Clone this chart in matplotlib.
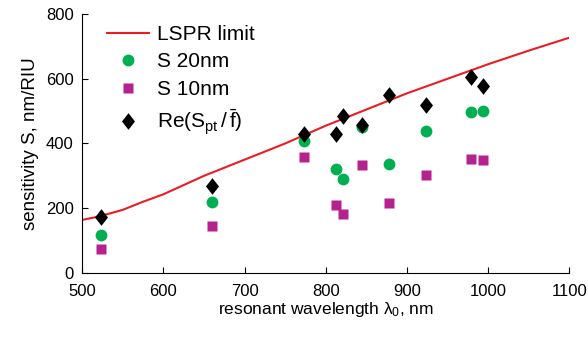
import numpy as np
import matplotlib
matplotlib.use("Agg")
import matplotlib.pyplot as plt

plt.rcParams['font.family'] = ['Liberation Sans', 'DejaVu Sans']
plt.rcParams['mathtext.fontset'] = 'custom'
plt.rcParams['mathtext.rm'] = 'Liberation Sans'
plt.rcParams['mathtext.it'] = 'Liberation Sans'

# LSPR limit curve
lspr_wl = [500, 520, 550, 575, 600, 650, 700, 750, 800, 850, 900, 950, 1000, 1050, 1100]
lspr_s = [164, 174, 195, 220, 243, 300, 350, 400, 455, 505, 555, 600, 645, 687, 727]

# resonant wavelengths of the particles
wl = [523, 660, 773, 813, 821, 845, 878, 924, 979, 993]
s20 = [117, 220, 409, 321, 291, 452, 337, 440, 496, 501]
s10 = [75, 145, 359, 209, 182, 334, 217, 303, 352, 349]
re_spt = [174, 270, 428, 429, 486, 457, 550, 519, 606, 579]

# diamond a bit taller than wide
diamond = [(0, 1), (0.78, 0), (0, -1), (-0.78, 0), (0, 1)]

fig = plt.figure(figsize=(5.88, 3.39), dpi=100)
ax = fig.add_axes([0.1395, 0.1947, 0.829, 0.764])

ax.plot(lspr_wl, lspr_s, color='#ec1c24', lw=1.5, label='LSPR limit')
ax.plot(wl, s20, 'o', color='#00b050', ms=8.5, mec='none', label='S 20nm')
ax.plot(wl, s10, 's', color='#b5218e', ms=6.8, mec='none', label='S 10nm')
ax.plot(wl, re_spt, marker=diamond, ls='none', color='black', ms=12, mec='none',
        label=r'Re(S$_{\rm pt}$$\,/\,\bar{\rm f}$)')

ax.set_xlim(500, 1100)
ax.set_ylim(0, 800)
ax.set_xticks(np.arange(500, 1101, 100))
ax.set_yticks(np.arange(0, 801, 200))
ax.spines['top'].set_visible(False)
ax.spines['right'].set_visible(False)
ax.tick_params(direction='in', length=4, labelsize=12)
ax.tick_params(axis='x', pad=8)
ax.tick_params(axis='y', pad=6)
ax.set_xlabel(r'resonant wavelength $\lambda_0$, nm', fontsize=12.5, labelpad=1)
ax.set_ylabel('sensitivity S, nm/RIU', fontsize=13.5, labelpad=5)

ax.legend(loc='upper left', bbox_to_anchor=(0.051, 0.957), frameon=False,
          fontsize=15, handlelength=2.0, labelspacing=0.4, handletextpad=0.4,
          borderaxespad=0, borderpad=0)

fig.savefig('out.png', dpi=100)
